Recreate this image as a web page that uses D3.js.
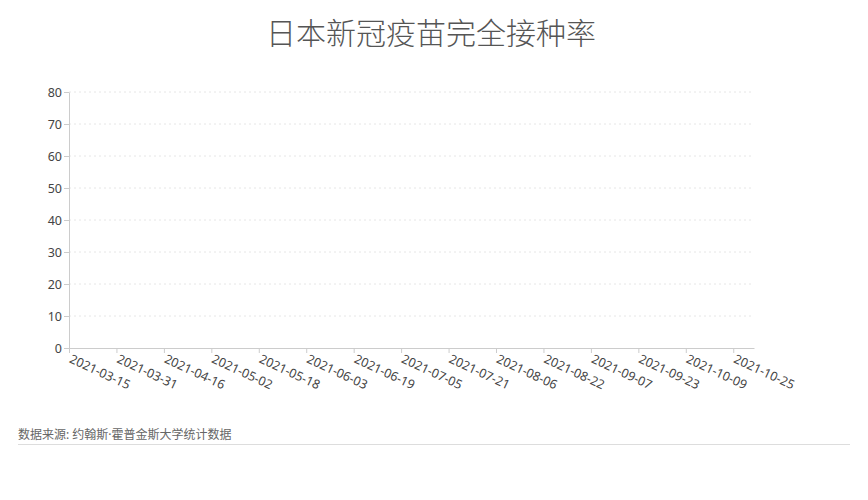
<!DOCTYPE html>
<html>
<head>
<meta charset="utf-8">
<script src="https://cdn.jsdelivr.net/npm/d3@7"></script>
<style>
  body { margin: 0; background: #fff; }
  text { font-family: "Noto Sans", "Noto Sans CJK SC", sans-serif; }
</style>
</head>
<body>
<div id="chart"></div>
<script>
// chart title and source
var TITLE = "日本新冠疫苗完全接种率";
var SOURCE = "数据来源: 约翰斯·霍普金斯大学统计数据";
// date range of the x axis
var DATE_RANGE = ["2021-03-15", "2021-11-01"];
// x tick labels (every 16 days)
var X_TICKS = ["2021-03-15", "2021-03-31", "2021-04-16", "2021-05-02", "2021-05-18",
  "2021-06-03", "2021-06-19", "2021-07-05", "2021-07-21", "2021-08-06", "2021-08-22",
  "2021-09-07", "2021-09-23", "2021-10-09", "2021-10-25"];
// y ticks
var Y_TICKS = [0, 10, 20, 30, 40, 50, 60, 70, 80];
// series values (nothing shown in the picture)
var DATES = [];
var RATES = [];

function drawChart() {
  var W = 868, H = 500;
  var margin = { left: 69, right: 114, top: 92, bottom: 152 };
  var width = W - margin.left - margin.right;
  var height = H - margin.top - margin.bottom;
  var parse = d3.timeParse("%Y-%m-%d");

  var svg = d3.select("#chart").append("svg")
    .attr("width", W).attr("height", H);

  // title
  svg.append("text")
    .attr("x", 431).attr("y", 44)
    .attr("text-anchor", "middle")
    .attr("font-family", "'Noto Sans CJK SC', sans-serif")
    .attr("font-weight", 300)
    .attr("font-size", "30px")
    .attr("fill", "#555")
    .text(TITLE);

  var chart = svg.append("g")
    .attr("transform", "translate(" + margin.left + "," + margin.top + ")");

  var x = d3.scaleTime()
    .domain(DATE_RANGE.map(parse))
    .range([0, width]);
  var y = d3.scaleLinear()
    .domain([0, 80])
    .range([height, 0]);

  // grid lines
  chart.append("g").selectAll("line")
    .data(Y_TICKS.filter(function (d) { return d > 0; }))
    .enter().append("line")
    .attr("x1", 0).attr("x2", width)
    .attr("y1", function (d) { return y(d); })
    .attr("y2", function (d) { return y(d); })
    .attr("stroke", "#e6e6e6")
    .attr("stroke-dasharray", "2,3");

  // y axis
  var yAxis = chart.append("g")
    .call(d3.axisLeft(y).tickValues(Y_TICKS).tickSize(5).tickSizeOuter(0));
  yAxis.select(".domain").attr("stroke", "#ccc");
  yAxis.selectAll(".tick line").attr("stroke", "#ccc");
  yAxis.selectAll(".tick text")
    .attr("fill", "#444").attr("font-size", "12.5px")
    .attr("font-family", "'Noto Sans', sans-serif")
    .attr("x", -7);

  // x axis
  var xAxis = chart.append("g")
    .attr("transform", "translate(0," + height + ")")
    .call(d3.axisBottom(x)
      .tickValues(X_TICKS.map(parse))
      .tickFormat(d3.timeFormat("%Y-%m-%d"))
      .tickSize(5).tickSizeOuter(0));
  xAxis.select(".domain").attr("stroke", "#ccc");
  xAxis.selectAll(".tick line").attr("stroke", "#ccc");
  xAxis.selectAll(".tick text")
    .attr("fill", "#444").attr("font-size", "12.5px")
    .attr("font-family", "'Noto Sans', sans-serif")
    .attr("text-anchor", "start")
    .attr("x", 0).attr("y", 0).attr("dy", 0)
    .attr("transform", "translate(-1,14) rotate(25)");

  // series line
  var line = d3.line()
    .x(function (d, i) { return x(parse(DATES[i])); })
    .y(function (d) { return y(d); });
  chart.append("path")
    .datum(RATES)
    .attr("fill", "none")
    .attr("stroke", "#5470c6")
    .attr("stroke-width", 2)
    .attr("d", RATES.length ? line(RATES) : null);

  // source note
  svg.append("text")
    .attr("x", 18).attr("y", 439)
    .attr("font-size", "12px")
    .attr("fill", "#666")
    .text(SOURCE);
  svg.append("line")
    .attr("x1", 18).attr("x2", 850)
    .attr("y1", 444.5).attr("y2", 444.5)
    .attr("stroke", "#ddd");
}

window.onload = drawChart;
</script>
</body>
</html>
